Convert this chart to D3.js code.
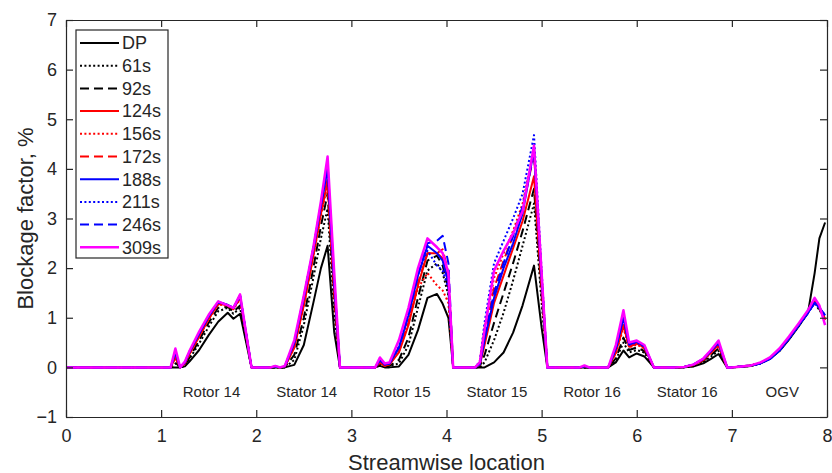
<!DOCTYPE html>
<html>
<head>
<meta charset="utf-8">
<script src="https://cdn.jsdelivr.net/npm/d3@7"></script>
<style>
  body { margin: 0; background: #fff; }
  text { font-family: "Liberation Sans", Arial, Helvetica, sans-serif; fill: #262626; }
</style>
</head>
<body>
<script>
const width = 832
const height = 473
const margins = { top: 20, right: 5, bottom: 56, left: 66 }

// streamwise stations shared by every series
const streamX = [0, 1.1,
  1.15, 1.2, 1.25, 1.3, 1.4, 1.5, 1.6, 1.7, 1.76, 1.83,
  1.95, 2.15, 2.2, 2.25,
  2.3, 2.4, 2.5, 2.6, 2.68, 2.75, 2.82,
  2.88, 3.25,
  3.3, 3.35, 3.4, 3.5, 3.6, 3.7, 3.8, 3.9, 3.96, 4.02,
  4.07, 4.3,
  4.35, 4.4, 4.5, 4.6, 4.7, 4.8, 4.92, 5.0,
  5.06, 5.4, 5.45, 5.5, 5.7,
  5.78, 5.86, 5.92, 6.0, 6.08,
  6.18, 6.4,
  6.5, 6.6, 6.7, 6.78, 6.86,
  6.95, 7.0,
  7.1, 7.2, 7.3, 7.4, 7.5, 7.6, 7.7, 7.8, 7.87, 7.92, 7.98]

const dp = [0, 0,
  0, 0, 0.02, 0.12, 0.35, 0.65, 0.92, 1.1, 0.98, 1.08,
  0, 0, 0, 0,
  0, 0.05, 0.45, 1.3, 2.0, 2.45, 0.7,
  0, 0,
  0.03, 0, 0, 0.02, 0.25, 0.75, 1.4, 1.48, 1.28, 1.0,
  0, 0,
  0, 0, 0.1, 0.3, 0.7, 1.25, 2.05, 0.8,
  0, 0, 0, 0, 0,
  0.1, 0.34, 0.2, 0.28, 0.22,
  0, 0,
  0, 0.02, 0.08, 0.17, 0.27,
  0, 0,
  0.01, 0.03, 0.08, 0.17, 0.33, 0.56, 0.82, 1.1, 1.9, 2.6, 2.92]

const s61 = [0, 0,
  0.08, 0, 0.03, 0.18, 0.48, 0.82, 1.13, 1.2, 1.08, 1.2,
  0, 0, 0, 0,
  0, 0.15, 0.85, 1.8, 2.6, 3.2, 1.1,
  0, 0,
  0.05, 0.01, 0.02, 0.08, 0.45, 1.2, 1.95, 2.1, 1.9, 1.45,
  0, 0,
  0, 0.1, 0.55, 1.1, 1.75, 2.45, 3.3, 1.3,
  0, 0, 0, 0, 0,
  0.15, 0.5, 0.3, 0.35, 0.3,
  0, 0,
  0, 0.03, 0.11, 0.22, 0.33,
  0, 0,
  0.01, 0.03, 0.08, 0.18, 0.34, 0.57, 0.83, 1.1, 1.3, 1.15, 1.0]

const s92 = [0, 0,
  0.1, 0, 0.05, 0.2, 0.55, 0.9, 1.2, 1.22, 1.12, 1.25,
  0, 0, 0, 0,
  0, 0.25, 1.0, 2.0, 2.85, 3.5, 1.3,
  0, 0,
  0.06, 0.01, 0.03, 0.15, 0.6, 1.4, 2.15, 2.25, 2.05, 1.6,
  0, 0,
  0.02, 0.25, 0.9, 1.5, 2.1, 2.75, 3.6, 1.45,
  0, 0, 0, 0, 0,
  0.18, 0.6, 0.35, 0.4, 0.33,
  0, 0,
  0, 0.04, 0.13, 0.25, 0.38,
  0, 0,
  0.01, 0.03, 0.08, 0.18, 0.34, 0.58, 0.84, 1.1, 1.32, 1.17, 1.0]

const s124 = [0, 0,
  0.2, 0, 0.08, 0.28, 0.62, 0.98, 1.28, 1.25, 1.18, 1.4,
  0, 0, 0.01, 0,
  0.01, 0.4, 1.25, 2.25, 3.1, 3.75, 1.5,
  0, 0,
  0.1, 0.03, 0.06, 0.3, 0.85, 1.65, 2.3, 2.3, 2.2, 1.7,
  0, 0,
  0.05, 0.45, 1.3, 1.85, 2.4, 2.95, 3.85, 1.6,
  0, 0, 0.01, 0, 0,
  0.3, 0.85, 0.42, 0.48, 0.4,
  0, 0,
  0.01, 0.05, 0.15, 0.3, 0.45,
  0, 0,
  0.02, 0.04, 0.09, 0.19, 0.36, 0.6, 0.86, 1.12, 1.35, 1.2, 0.95]

const s156 = [0, 0,
  0.2, 0, 0.08, 0.27, 0.62, 0.97, 1.27, 1.24, 1.17, 1.38,
  0, 0, 0.01, 0,
  0.01, 0.4, 1.25, 2.25, 3.05, 3.7, 1.5,
  0, 0,
  0.1, 0.03, 0.06, 0.35, 0.95, 1.6, 1.9, 1.65, 1.55, 1.3,
  0, 0,
  0.1, 0.8, 1.8, 2.3, 2.75, 3.3, 4.4, 1.85,
  0, 0, 0.01, 0, 0,
  0.28, 0.8, 0.4, 0.46, 0.38,
  0, 0,
  0.01, 0.05, 0.15, 0.29, 0.44,
  0, 0,
  0.02, 0.04, 0.09, 0.19, 0.36, 0.6, 0.86, 1.12, 1.35, 1.2, 0.95]

const s172 = [0, 0,
  0.2, 0, 0.08, 0.28, 0.63, 0.98, 1.28, 1.25, 1.18, 1.4,
  0, 0, 0.01, 0,
  0.01, 0.42, 1.28, 2.28, 3.15, 3.8, 1.55,
  0, 0,
  0.1, 0.03, 0.06, 0.32, 0.9, 1.7, 2.3, 2.3, 2.38, 1.9,
  0, 0,
  0.06, 0.6, 1.6, 2.15, 2.65, 3.2, 4.3, 1.75,
  0, 0, 0.01, 0, 0,
  0.3, 0.85, 0.42, 0.48, 0.4,
  0, 0,
  0.01, 0.05, 0.15, 0.3, 0.45,
  0, 0,
  0.02, 0.04, 0.09, 0.19, 0.36, 0.6, 0.86, 1.12, 1.35, 1.2, 0.98]

const s188 = [0, 0,
  0.3, 0, 0.1, 0.32, 0.68, 1.03, 1.32, 1.26, 1.2, 1.45,
  0, 0, 0.02, 0,
  0.02, 0.5, 1.4, 2.38, 3.25, 4.0, 1.7,
  0, 0,
  0.15, 0.06, 0.08, 0.4, 1.05, 1.85, 2.45, 2.3, 2.15, 1.7,
  0, 0,
  0.06, 0.55, 1.4, 2.0, 2.5, 3.1, 4.4, 1.8,
  0, 0, 0.02, 0, 0,
  0.38, 1.0, 0.46, 0.52, 0.43,
  0, 0,
  0.01, 0.06, 0.17, 0.33, 0.5,
  0, 0,
  0.02, 0.04, 0.08, 0.17, 0.34, 0.58, 0.84, 1.1, 1.3, 1.2, 1.05]

const s211 = [0, 0,
  0.3, 0, 0.1, 0.32, 0.68, 1.03, 1.32, 1.26, 1.19, 1.44,
  0, 0, 0.02, 0,
  0.02, 0.5, 1.42, 2.4, 3.28, 4.05, 1.7,
  0, 0,
  0.15, 0.06, 0.08, 0.42, 1.1, 1.9, 2.35, 2.05, 1.95, 1.6,
  0, 0,
  0.12, 0.9, 2.1, 2.55, 3.0, 3.5, 4.68, 1.95,
  0, 0, 0.02, 0, 0,
  0.38, 1.0, 0.46, 0.5, 0.42,
  0, 0,
  0.01, 0.06, 0.17, 0.33, 0.5,
  0, 0,
  0.02, 0.04, 0.08, 0.17, 0.34, 0.58, 0.84, 1.1, 1.3, 1.2, 1.05]

const s246 = [0, 0,
  0.3, 0, 0.1, 0.32, 0.68, 1.03, 1.32, 1.26, 1.2, 1.45,
  0, 0, 0.02, 0,
  0.02, 0.5, 1.42, 2.4, 3.3, 4.1, 1.75,
  0, 0,
  0.15, 0.06, 0.08, 0.4, 1.05, 1.85, 2.5, 2.55, 2.65, 2.1,
  0, 0,
  0.08, 0.6, 1.5, 2.1, 2.65, 3.25, 4.35, 1.8,
  0, 0, 0.02, 0, 0,
  0.38, 1.02, 0.47, 0.52, 0.43,
  0, 0,
  0.01, 0.06, 0.17, 0.33, 0.5,
  0, 0,
  0.02, 0.04, 0.08, 0.17, 0.34, 0.58, 0.84, 1.1, 1.3, 1.2, 1.05]

const s309 = [0, 0,
  0.38, 0, 0.12, 0.34, 0.72, 1.06, 1.33, 1.25, 1.2, 1.47,
  0, 0, 0.03, 0,
  0.03, 0.55, 1.45, 2.42, 3.35, 4.25, 1.9,
  0, 0,
  0.2, 0.08, 0.1, 0.55, 1.2, 2.0, 2.6, 2.42, 2.3, 1.9,
  0, 0,
  0.1, 0.75, 1.95, 2.35, 2.7, 3.15, 4.47, 1.9,
  0, 0, 0.04, 0, 0,
  0.45, 1.15, 0.5, 0.54, 0.45,
  0, 0,
  0.01, 0.06, 0.18, 0.35, 0.54,
  0, 0,
  0.02, 0.04, 0.1, 0.2, 0.38, 0.62, 0.88, 1.15, 1.4, 1.25, 0.85]

const seriesNames = ['DP', '61s', '92s', '124s', '156s', '172s', '188s', '211s', '246s', '309s']
const seriesValues = [dp, s61, s92, s124, s156, s172, s188, s211, s246, s309]
const sectionNames = ['Rotor 14', 'Stator 14', 'Rotor 15', 'Stator 15', 'Rotor 16', 'Stator 16', 'OGV']
const xTicks = d3.range(0, 9)
const yTicks = d3.range(-1, 8)

const seriesColors = ['#000', '#000', '#000', '#ff0000', '#ff0000', '#ff0000', '#0000ff', '#0000ff', '#0000ff', '#ff00ff']
const seriesDash = [null, '2,2.4', '9,5', null, '2,2.4', '9,5', null, '2,2.4', '9,5', null]
const axisColor = '#262626'

const svg = d3.select('body').append('svg')
  .attr('width', width)
  .attr('height', height)

const xScale = d3.scaleLinear()
  .domain([0, 8])
  .range([margins.left, width - margins.right])
const yScale = d3.scaleLinear()
  .domain([-1, 7])
  .range([height - margins.bottom, margins.top])

svg.append('defs').append('clipPath').attr('id', 'plot-clip')
  .append('rect')
  .attr('x', xScale(0))
  .attr('y', yScale(7))
  .attr('width', xScale(8) - xScale(0))
  .attr('height', yScale(-1) - yScale(7))

// series lines
const line = d3.line()
  .x((d, i) => xScale(streamX[i]))
  .y(d => yScale(d))

svg.append('g')
  .attr('clip-path', 'url(#plot-clip)')
  .selectAll('path')
  .data(seriesValues)
  .enter()
  .append('path')
  .attr('d', line)
  .attr('fill', 'none')
  .attr('stroke', (d, i) => seriesColors[i])
  .attr('stroke-width', (d, i) => i === 9 ? 2.5 : 2)
  .attr('stroke-dasharray', (d, i) => seriesDash[i])
  .attr('stroke-linejoin', 'round')

// section labels
svg.append('g')
  .selectAll('text')
  .data(sectionNames)
  .enter()
  .append('text')
  .attr('x', (d, i) => xScale(i + 1.53))
  .attr('y', yScale(-0.6))
  .attr('text-anchor', 'middle')
  .attr('font-size', 15)
  .text(d => d)

// axes
const styleAxis = g => {
  g.selectAll('.domain').attr('stroke', axisColor).attr('stroke-width', 1.2)
  g.selectAll('.tick line').attr('stroke', axisColor).attr('stroke-width', 1.2)
  g.selectAll('.tick text')
    .attr('fill', axisColor)
    .attr('font-size', 18)
    .attr('font-family', '"Liberation Sans", Arial, sans-serif')
}

svg.append('g')
  .attr('transform', `translate(0,${yScale(-1)})`)
  .call(d3.axisBottom(xScale).tickValues(xTicks).tickFormat(d3.format('d')).tickSize(-7).tickSizeOuter(0).tickPadding(12))
  .call(styleAxis)
svg.append('g')
  .attr('transform', `translate(0,${yScale(7)})`)
  .call(d3.axisTop(xScale).tickValues(xTicks).tickFormat('').tickSize(-7).tickSizeOuter(0))
  .call(styleAxis)
svg.append('g')
  .attr('transform', `translate(${xScale(0)},0)`)
  .call(d3.axisLeft(yScale).tickValues(yTicks).tickFormat(d3.format('d')).tickSize(-7).tickSizeOuter(0).tickPadding(9))
  .call(styleAxis)
svg.append('g')
  .attr('transform', `translate(${xScale(8)},0)`)
  .call(d3.axisRight(yScale).tickValues(yTicks).tickFormat('').tickSize(-7).tickSizeOuter(0))
  .call(styleAxis)

// axis titles
svg.append('text')
  .attr('x', (xScale(0) + xScale(8)) / 2)
  .attr('y', 470)
  .attr('text-anchor', 'middle')
  .attr('font-size', 22)
  .text('Streamwise location')

svg.append('text')
  .attr('transform', `translate(33,${(yScale(-1) + yScale(7)) / 2}) rotate(-90)`)
  .attr('text-anchor', 'middle')
  .attr('font-size', 22)
  .text('Blockage factor, %')

// legend
const legendX = 76
const legendY = 30
const legendRow = 22.7
const legend = svg.append('g')

legend.append('rect')
  .attr('x', legendX)
  .attr('y', legendY)
  .attr('width', 92)
  .attr('height', legendRow * seriesNames.length + 1)
  .attr('fill', '#fff')
  .attr('stroke', axisColor)
  .attr('stroke-width', 1.2)

const entries = legend.selectAll('g.entry')
  .data(seriesNames)
  .enter()
  .append('g')
  .attr('class', 'entry')
  .attr('transform', (d, i) => `translate(${legendX},${legendY + 13 + i * legendRow})`)

entries.append('line')
  .attr('x1', 4)
  .attr('x2', 43)
  .attr('stroke', (d, i) => seriesColors[i])
  .attr('stroke-width', (d, i) => i === 9 ? 2.5 : 2)
  .attr('stroke-dasharray', (d, i) => seriesDash[i])

entries.append('text')
  .attr('x', 46)
  .attr('dy', '0.35em')
  .attr('font-size', 18)
  .text(d => d)
</script>
</body>
</html>
